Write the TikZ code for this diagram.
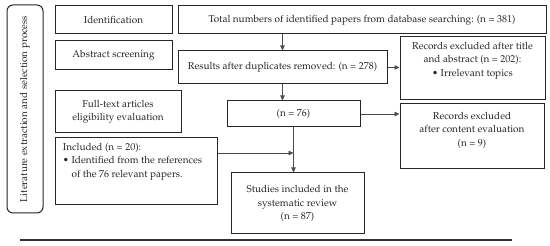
\documentclass[tikz,border=0pt]{standalone}
\usepackage[T1]{fontenc}
\usepackage{mathpazo}
\usepackage{xcolor}
\usetikzlibrary{arrows.meta, positioning}

\begin{document}
\begin{tikzpicture}[
        x=1pt, y=-1pt,
        stage/.style={
            rectangle,
            draw=black!85,
            line width=1pt,
            inner sep=0pt,
            align=center,
            text=black!85,
            font=\fontsize{10}{13.5}\selectfont
        },
        sidebar/.style={
            stage,
            rounded corners=6pt,
            rotate=90
        },
        arrow/.style={-{Triangle[length=5pt, width=4.5pt]}, line width=0.6pt, draw=black!70}
    ]
    \useasboundingbox (0,0) rectangle (550,246);

    \node (side)     [sidebar, minimum width=208pt, minimum height=36pt] at (25,109) {Literature extraction and selection process};

    \node (ident)    [stage, minimum width=117pt, minimum height=28pt] at (113.5,20) {Identification};
    \node (total)    [stage, minimum width=368pt, minimum height=28pt] at (362,20) {Total numbers of identified papers from database searching: (n = 381)};
    \node (abstract) [stage, minimum width=117pt, minimum height=29pt] at (113.5,55.5) {Abstract screening};
    \node (results)  [stage, minimum width=209pt, minimum height=33pt] at (282.5,67.5) {Results after duplicates removed: (n = 278)};
    \node (excl1)    [stage] at (472.5,68.5) {\parbox[c][63pt][t]{145pt}{\centering\vspace*{5pt}Records excluded after title\\ and abstract (n = 202):\\ \textbullet\ Irrelevant topics}};
    \node (fulltext) [stage, minimum width=126pt, minimum height=42pt] at (118,112) {Full-text articles\\ eligibility evaluation};
    \node (n76)      [stage, minimum width=133pt, minimum height=26pt] at (293.5,114) {(n = 76)};
    \node (excl2)    [stage] at (472,136.5) {\parbox[c][65pt][t]{144pt}{\centering\vspace*{8pt}Records excluded\\ after content evaluation\\ (n = 9)}};
    \node (included) [stage] at (136,171.5) {\parbox[c][67pt][t]{162pt}{\raggedright\leftskip=8pt\vspace*{5pt}Included (n = 20):\\ \textbullet\ Identified from the references\\ \phantom{\textbullet\ }of the 76 relevant papers.}};
    \node (studies)  [stage, minimum width=133pt, minimum height=61pt] at (297.5,203.5) {Studies included in the\\ systematic review\\ (n = 87)};

    \coordinate (merge) at (n76.south |- 0,153);

    \draw [arrow] (total.south -| results) -- (results.north);
    \draw [arrow] (results.south) -- (results.south |- n76.north);
    \draw [arrow] (results.east) -- (results.east -| excl1.west);
    \draw [arrow] (n76.east) -- (n76.east -| excl2.west);
    \draw [arrow] (n76.south) -- (n76.south |- studies.north);
    \draw [arrow] (merge -| included.east) -- (merge);

    % closing rule under the figure
    \draw [line width=1.2pt, black!80] (20,240) -- (512,240);

\end{tikzpicture}
\end{document}
